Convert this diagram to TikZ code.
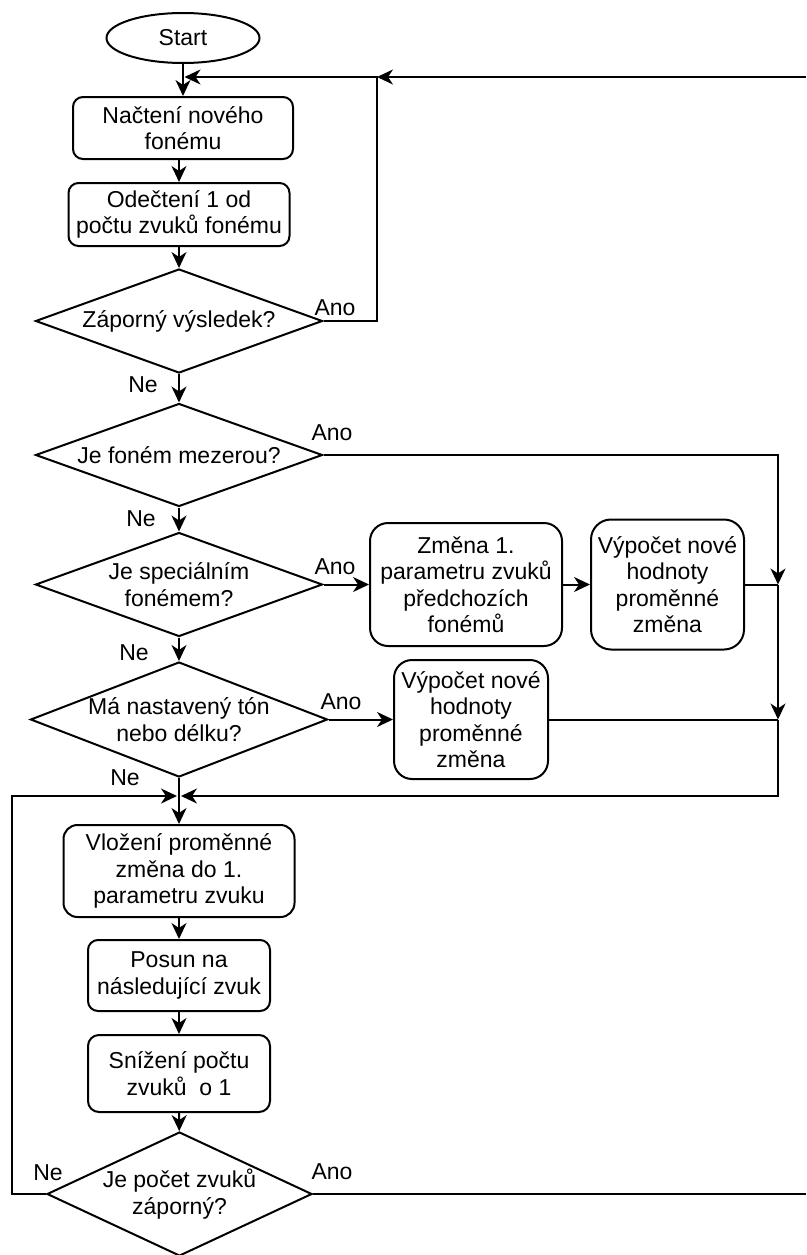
\documentclass[tikz,border=0pt]{standalone}
\usepackage{fontspec}
\setmainfont{Liberation Sans}
\usetikzlibrary{shapes.geometric,arrows.meta}

\begin{document}
\begin{tikzpicture}[x=1pt,y=1pt]
\tikzstyle{every node}+=[inner sep=0pt, font=\fontsize{23}{26.5}\selectfont, align=center]
\tikzstyle{box}=[draw, line width=2pt, rectangle, rounded corners=10pt]
\tikzstyle{bigbox}=[box, rounded corners=18pt]
\tikzstyle{decision}=[draw, line width=2pt, diamond]
\tikzstyle{conn}=[line width=2pt]
\tikzstyle{arr}=[conn, -{Stealth[length=16pt,width=15pt,inset=5pt]}]
\useasboundingbox (0,0) rectangle (806,-1255);
% main column
\node [ellipse, draw, line width=2pt, minimum width=153pt, minimum height=50pt] (start) at (183,-38) {Start};
\node [box, minimum width=220pt, minimum height=62pt] (nacteni) at (183,-128) {Načtení nového\\fonému};
\node [box, minimum width=221pt, minimum height=63pt] (odecteni) at (179,-214.5) {Odečtení 1 od\\počtu zvuků fonému};
\node [decision, aspect=2.76, minimum width=287pt, minimum height=104pt] (zaporny) at (179,-321) {Záporný výsledek?};
\node [decision, aspect=2.79, minimum width=287pt, minimum height=103pt] (mezera) at (179,-455) {Je foném mezerou?};
\node [decision, aspect=2.76, minimum width=287pt, minimum height=104pt] (specialni) at (179,-584.5) {Je speciálním\\fonémem?};
\node [decision, aspect=2.58, minimum width=297pt, minimum height=115pt] (ton) at (179,-719.5) {Má nastavený tón\\nebo délku?};
\node [box, rounded corners=14pt, minimum width=231pt, minimum height=92pt] (vlozeni) at (179,-871) {Vložení proměnné\\změna do 1.\\parametru zvuku};
\node [box, minimum width=182pt, minimum height=71pt] (posun) at (179,-975.5) {Posun na\\následující zvuk};
\node [box, rounded corners=11pt, minimum width=182pt, minimum height=77pt] (snizeni) at (179,-1073.5) {Snížení počtu\\zvuků \ o 1};
\node [decision, aspect=2.14, minimum width=265pt, minimum height=124pt] (pocet) at (179.5,-1194) {Je počet zvuků\\záporný?};
% side boxes
\node [bigbox, minimum width=192pt, minimum height=123pt] (zmena) at (466,-584.5) {Změna 1.\\parametru zvuků\\předchozích\\fonémů};
\node [bigbox, rounded corners=20pt, minimum width=153pt, minimum height=130pt] (vypocetA) at (667.5,-584.5) {Výpočet nové\\hodnoty\\proměnné\\změna};
\node [bigbox, minimum width=154pt, minimum height=119pt] (vypocetB) at (471,-719.5) {Výpočet nové\\hodnoty\\proměnné\\změna};
% labels
\node (anoZ) at (335,-308) {Ano};
\node (neZ) at (143,-385) {Ne};
\node (anoM) at (332,-433) {Ano};
\node (neM) at (141,-519) {Ne};
\node (anoS) at (335,-567) {Ano};
\node (neS) at (134,-653) {Ne};
\node (anoT) at (341,-702) {Ano};
\node (neT) at (125,-778) {Ne};
\node (neP) at (48,-1173) {Ne};
\node (anoP) at (332,-1172) {Ano};
% junctions
\coordinate (jtop) at (184.5,-77);
\coordinate (jloop) at (377,-77);
\coordinate (edgeTop) at (806,-77);
\coordinate (m1) at (778,-584.5);
\coordinate (m2) at (778,-719.5);
\coordinate (m3) at (778,-796);
\coordinate (jR) at (181,-796);
\coordinate (jL) at (177,-796);
\coordinate (m4) at (12,-796);
\coordinate (edgeBot) at (806,-1194);
% connectors
\draw [arr] (start) -- (nacteni);
\draw [arr] (nacteni.south -| odecteni.north) -- (odecteni);
\draw [arr] (odecteni) -- (zaporny);
\draw [arr] (zaporny.east) -| (jloop) -- (jtop);
\draw [arr] (edgeTop) -- (jloop);
\draw [arr] (zaporny) -- (mezera);
\draw [arr] (mezera.east) -| (m1);
\draw [arr] (mezera) -- (specialni);
\draw [arr] (specialni) -- (zmena);
\draw [arr] (zmena) -- (vypocetA);
\draw [conn] (vypocetA.east) -- (m1);
\draw [arr] (m1) -- (m2);
\draw [arr] (specialni) -- (ton);
\draw [arr] (ton) -- (vypocetB);
\draw [conn] (vypocetB.east) -- (m2);
\draw [arr] (m2) -- (m3) -- (jR);
\draw [arr] (ton) -- (vlozeni);
\draw [arr] (vlozeni) -- (posun);
\draw [arr] (posun) -- (snizeni);
\draw [arr] (snizeni) -- (pocet);
\draw [arr] (pocet.west) -| (m4) -- (jL);
\draw [conn] (pocet.east) -- (edgeBot);
\end{tikzpicture}
\end{document}
